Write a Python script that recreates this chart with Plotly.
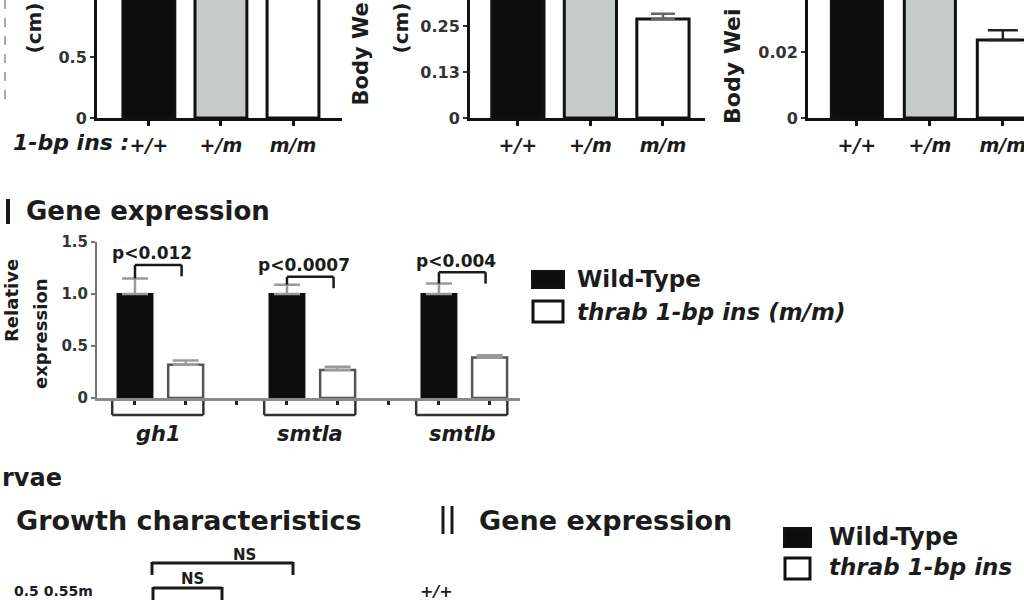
import plotly.graph_objects as go

W, H = 1024, 600

# ---------------- data ----------------
genotypes = ["+/+", "+/m", "m/m"]
geno_colors = ["#0d0d0d", "#c6cbca", "#ffffff"]
# Panel 1: length (cm) - bars run past the visible top
length_vals = [1.25, 1.22, 1.18]
# Panel 2: body weight
weight_vals = [0.34, 0.33, 0.269]
weight_err = [0, 0, 0.014]
# Panel 3: body weight
weight2_vals = [0.045, 0.044, 0.0236]
weight2_err = [0, 0, 0.003]

genes = ["gh1", "smtla", "smtlb"]
wt_expr = [1.0, 1.0, 1.0]
wt_err = [0.15, 0.09, 0.10]
mut_expr = [0.32, 0.27, 0.39]
mut_err = [0.04, 0.03, 0.02]
pvalues = ["p<0.012", "p<0.0007", "p<0.004"]
legend_labels = ["Wild-Type", "thrab 1-bp ins (m/m)"]
legend_labels_bottom = ["Wild-Type", "thrab 1-bp ins"]

FONT = "DejaVu Sans"
TXT = "#1c1c1c"


def fx(px):
    return px / W


def fy(py):
    return 1 - py / H


fig = go.Figure()

# ---------------- top panels ----------------
fig.add_trace(go.Bar(x=genotypes, y=length_vals, width=0.72,
                     marker=dict(color=geno_colors, line=dict(color="#111", width=3)),
                     xaxis="x", yaxis="y", showlegend=False))
fig.add_trace(go.Bar(x=genotypes, y=weight_vals, width=0.72,
                     marker=dict(color=geno_colors, line=dict(color="#111", width=3)),
                     error_y=dict(type="data", array=weight_err, arrayminus=[0, 0, 0],
                                  symmetric=False, color="#666", thickness=2.5, width=12),
                     xaxis="x2", yaxis="y2", showlegend=False))
fig.add_trace(go.Bar(x=genotypes, y=weight2_vals, width=0.70,
                     marker=dict(color=geno_colors, line=dict(color="#111", width=3)),
                     error_y=dict(type="data", array=weight2_err, arrayminus=[0, 0, 0],
                                  symmetric=False, color="#222", thickness=2.5, width=15),
                     xaxis="x3", yaxis="y3", showlegend=False))

# ---------------- middle gene-expression panel ----------------
wt_x = [3 * i for i in range(len(genes))]
mut_x = [3 * i + 1 for i in range(len(genes))]
fig.add_trace(go.Bar(x=wt_x, y=wt_expr, width=0.69, name=legend_labels[0],
                     marker=dict(color="#0d0d0d", line=dict(color="#111", width=2)),
                     error_y=dict(type="data", array=wt_err, arrayminus=[0] * 3, symmetric=False,
                                  color="#9a9a9a", thickness=2.5, width=13),
                     xaxis="x4", yaxis="y4", showlegend=False))
fig.add_trace(go.Bar(x=mut_x, y=mut_expr, width=0.69, name=legend_labels[1],
                     marker=dict(color="#ffffff", line=dict(color="#555", width=2.5)),
                     error_y=dict(type="data", array=mut_err, arrayminus=[0] * 3, symmetric=False,
                                  color="#9a9a9a", thickness=2.5, width=13),
                     xaxis="x4", yaxis="y4", showlegend=False))

tick_font = dict(family=FONT, size=16, color="#333", weight="bold")
xlab_font = dict(family=FONT, size=19, color=TXT, weight="bold", style="italic")

common_x = dict(type="category", showline=True, linecolor="#111", linewidth=3,
                ticks="outside", ticklen=5, tickwidth=3, tickcolor="#111",
                tickfont=xlab_font, ticklabelstandoff=3, showgrid=False, zeroline=False,
                automargin=False)
common_y = dict(showline=True, linecolor="#111", linewidth=3, ticks="outside",
                ticklen=4, tickwidth=2, tickcolor="#333", tickfont=tick_font,
                showgrid=False, zeroline=False, automargin=False)

fig.update_layout(
    width=W, height=H, margin=dict(l=0, r=0, t=0, b=0, pad=0, autoexpand=False),
    paper_bgcolor="white", plot_bgcolor="white",
    barmode="overlay",
    xaxis=dict(common_x, domain=[fx(97), fx(342)], range=[-0.72, 2.68], anchor="y"),
    yaxis=dict(common_y, domain=[fy(118), 1], range=[0, 118 / 122], anchor="x",
               tickvals=[0, 0.5, 1.0], ticktext=["0", "0.5", "1.0"]),
    xaxis2=dict(common_x, domain=[fx(470), fx(705)], range=[-0.66, 2.58], anchor="y2"),
    yaxis2=dict(common_y, domain=[fy(118), 1], range=[0, 118 / 368], anchor="x2",
                tickvals=[0, 0.125, 0.25], ticktext=["0", "0.13", "0.25"]),
    xaxis3=dict(common_x, domain=[fx(808), 1], range=[-0.67, 2.29], anchor="y3"),
    yaxis3=dict(common_y, domain=[fy(118), 1], range=[0, 118 / 3300], anchor="x3",
                tickvals=[0, 0.02], ticktext=["0", "0.02"]),
    xaxis4=dict(domain=[fx(97), fx(520)], range=[-0.75, 7.6], anchor="y4",
                showline=True, linecolor="#8a8a8a", linewidth=3, ticks="outside",
                tick0=0, dtick=1, ticklen=4, tickwidth=3, tickcolor="#222",
                showticklabels=False, showgrid=False, zeroline=False, automargin=False),
    yaxis4=dict(domain=[fy(398), fy(242)], range=[0, 1.5], anchor="x4",
                showline=True, linecolor="#777", linewidth=2, ticks="outside",
                ticklen=4, tickwidth=2, tickcolor="#777",
                tickvals=[0, 0.5, 1.0, 1.5], ticktext=["0", "0.5", "1.0", "1.5"],
                tickfont=dict(family=FONT, size=15, color="#333", weight="bold"),
                showgrid=False, zeroline=False, automargin=False),
)

ann = []
shapes = []


def text(px, py, s, size, xanchor="left", yanchor="middle", angle=0, italic=False,
         bold=True, color=TXT):
    ann.append(dict(x=fx(px), y=fy(py), xref="paper", yref="paper", text=s,
                    showarrow=False, xanchor=xanchor, yanchor=yanchor, textangle=angle,
                    font=dict(family=FONT, size=size, color=color,
                              weight="bold" if bold else "normal",
                              style="italic" if italic else "normal")))


def pline(x0, y0, x1, y1, color="#1a1a1a", width=3, dash=None):
    shapes.append(dict(type="line", xref="paper", yref="paper", x0=fx(x0), y0=fy(y0),
                       x1=fx(x1), y1=fy(y1), line=dict(color=color, width=width,
                                                       dash=dash or "solid")))


# top panel labels
text(131, 143, "1-bp ins :", 22, xanchor="right", italic=True)
text(33, 1, "(cm)", 20, xanchor="center", yanchor="top", angle=-90)
pline(5, 0, 5, 102, color="#aaaaaa", width=2, dash="dash")
text(360, 1, "Body We", 21, xanchor="center", yanchor="top", angle=-90)
text(400, 1, "(cm)", 20, xanchor="center", yanchor="top", angle=-90)
text(733, 126, "Body Wei", 22, xanchor="center", yanchor="bottom", angle=-90)

# middle panel title
pline(8, 199, 8, 224, width=4)
text(24, 211, "Gene expression", 26)
text(40, 334, "expression", 18, xanchor="center", angle=-90)
text(11, 301, "Relative", 18, xanchor="center", angle=-90)

# p-value brackets
bracket_y = [1.28, 1.165, 1.21]
for i, g in enumerate(genes):
    x0, x1 = wt_x[i], wt_x[i] + 0.92
    by = bracket_y[i]
    for (a, b, c, d) in [(x0, by, x1, by), (x0, by, x0, wt_expr[i] + wt_err[i]),
                         (x1, by, x1, by - 0.11)]:
        shapes.append(dict(type="line", xref="x4", yref="y4", x0=a, y0=b, x1=c, y1=d,
                           line=dict(color="#1a1a1a", width=2.5)))
    ann.append(dict(x=wt_x[i] + 0.33, y=by + 0.11, xref="x4", yref="y4", text=pvalues[i],
                    showarrow=False, xanchor="center", yanchor="middle",
                    font=dict(family=FONT, size=17, color=TXT, weight="bold")))
    # category bracket + gene label
    for (a, b, c, d) in [(wt_x[i] - 0.45, 415, wt_x[i] + 1.35, 415),
                         (wt_x[i] - 0.45, 401, wt_x[i] - 0.45, 415),
                         (wt_x[i] + 1.35, 401, wt_x[i] + 1.35, 415)]:
        shapes.append(dict(type="line", xref="x4", yref="paper", x0=a, y0=fy(b), x1=c,
                           y1=fy(d), line=dict(color="#333", width=2.5)))
    ann.append(dict(x=wt_x[i] + 0.46, y=fy(434), xref="x4", yref="paper", text=g,
                    showarrow=False, xanchor="center", yanchor="middle",
                    font=dict(family=FONT, size=21, color=TXT, weight="bold",
                              style="italic")))

# middle legend
shapes.append(dict(type="rect", xref="paper", yref="paper", x0=fx(532), x1=fx(564),
                   y0=fy(288), y1=fy(271), fillcolor="#0d0d0d", line=dict(color="#111", width=2)))
shapes.append(dict(type="rect", xref="paper", yref="paper", x0=fx(533), x1=fx(563),
                   y0=fy(322), y1=fy(301), fillcolor="#ffffff", line=dict(color="#111", width=3)))
text(575, 279, legend_labels[0], 23)
text(575, 312, legend_labels[1], 23, italic=True)

# bottom section
text(0, 478, "rvae", 24)
text(14, 520, "Growth characteristics", 27)
pline(443, 506, 443, 534, width=3)
pline(452, 506, 452, 534, width=3)
text(477, 520, "Gene expression", 27)
shapes.append(dict(type="rect", xref="paper", yref="paper", x0=fx(784), x1=fx(811),
                   y0=fy(547), y1=fy(528), fillcolor="#0d0d0d", line=dict(color="#111", width=2)))
shapes.append(dict(type="rect", xref="paper", yref="paper", x0=fx(785), x1=fx(810),
                   y0=fy(579), y1=fy(558), fillcolor="#ffffff", line=dict(color="#111", width=3)))
text(827, 537, legend_labels_bottom[0], 24)
text(827, 567, legend_labels_bottom[1], 23, italic=True)

# NS brackets
pline(152, 563, 293, 563, width=3)
pline(152, 562, 152, 575, width=3)
pline(293, 562, 293, 575, width=3)
text(244, 555, "NS", 15, xanchor="center")
pline(153, 588, 222, 588, width=3)
pline(153, 587, 153, 602, width=3)
pline(222, 587, 222, 602, width=3)
text(192, 579, "NS", 15, xanchor="center")
text(12, 591, "0.5 0.55m", 14, yanchor="middle")
text(418, 591, "+/+", 16, yanchor="middle", italic=True)

fig.update_layout(annotations=ann, shapes=shapes)

# remove the default 8px page margin so the figure sits at the window origin
fig.write_html("out.html", config={"displayModeBar": False},
               post_script="document.body.style.margin='0';document.body.style.overflow='hidden';")
